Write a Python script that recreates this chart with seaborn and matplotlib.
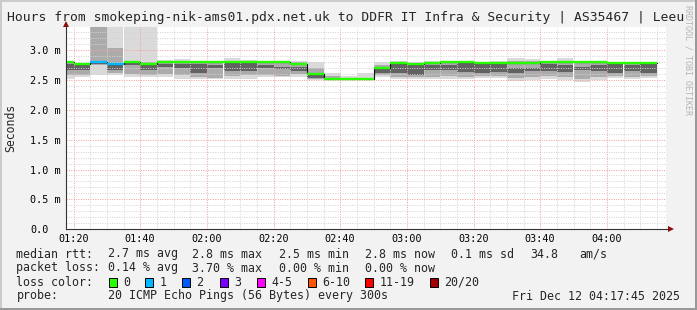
import numpy as np
import pandas as pd
import matplotlib
matplotlib.use("Agg")
import matplotlib.pyplot as plt
import seaborn as sns
from matplotlib.patches import Rectangle

# ------------------------------------------------------------------ data
window_start = "01:17:45"
window_end = "04:17:45"
bin_starts = ["01:17:45", "01:20", "01:25", "01:30", "01:35", "01:40", "01:45", "01:50",
              "01:55", "02:00", "02:05", "02:10", "02:15", "02:20", "02:25", "02:30",
              "02:35", "02:40", "02:45", "02:50", "02:55", "03:00", "03:05", "03:10",
              "03:15", "03:20", "03:25", "03:30", "03:35", "03:40", "03:45", "03:50",
              "03:55", "04:00", "04:05", "04:10"]
last_bin_end = "04:15"

median_ms = [2.79, 2.77, 2.79, 2.77, 2.80, 2.77, 2.79, 2.79, 2.79, 2.79, 2.79, 2.79,
             2.79, 2.79, 2.77, 2.595, 2.52, 2.52, 2.51, 2.695, 2.78, 2.77, 2.78, 2.79,
             2.79, 2.78, 2.78, 2.78, 2.78, 2.79, 2.79, 2.79, 2.79, 2.775, 2.775, 2.775]
loss_count = [0, 0, 1, 1, 0, 0, 0, 0, 0, 0, 0, 0, 0, 0, 0, 0, 0, 0,
              0, 0, 0, 0, 0, 0, 0, 0, 0, 0, 0, 0, 0, 0, 0, 0, 0, 0]

smoke_min = [2.51, 2.54, 2.58, 2.58, 2.54, 2.55, 2.55, 2.52, 2.51, 2.51, 2.51, 2.52,
             2.55, 2.54, 2.55, 2.50, 2.49, 2.49, 2.49, 2.55, 2.51, 2.51, 2.51, 2.51,
             2.51, 2.53, 2.53, 2.48, 2.50, 2.51, 2.49, 2.47, 2.50, 2.53, 2.51, 2.53]
smoke_q10 = [2.58, 2.58, 2.74, 2.62, 2.60, 2.58, 2.60, 2.58, 2.55, 2.53, 2.57, 2.58,
             2.58, 2.57, 2.59, 2.52, 2.50, 2.50, 2.50, 2.58, 2.55, 2.54, 2.55, 2.56,
             2.55, 2.56, 2.57, 2.53, 2.55, 2.56, 2.54, 2.52, 2.55, 2.57, 2.55, 2.57]
smoke_q25 = [2.66, 2.66, 2.77, 2.66, 2.74, 2.67, 2.72, 2.70, 2.62, 2.70, 2.65, 2.64,
             2.70, 2.68, 2.65, 2.53, 2.51, 2.51, 2.505, 2.62, 2.62, 2.58, 2.66, 2.67,
             2.63, 2.62, 2.63, 2.62, 2.65, 2.64, 2.63, 2.66, 2.64, 2.62, 2.64, 2.62]
smoke_q75 = [2.77, 2.75, 2.80, 2.78, 2.79, 2.76, 2.77, 2.76, 2.76, 2.74, 2.78, 2.78,
             2.74, 2.72, 2.72, 2.59, 2.525, 2.52, 2.515, 2.70, 2.79, 2.77, 2.74, 2.75,
             2.78, 2.77, 2.76, 2.70, 2.70, 2.76, 2.74, 2.72, 2.74, 2.77, 2.74, 2.77]
smoke_q90 = [2.79, 2.77, 3.60, 3.03, 2.81, 2.79, 2.82, 2.81, 2.80, 2.79, 2.82, 2.81,
             2.79, 2.79, 2.79, 2.70, 2.56, 2.53, 2.53, 2.75, 2.80, 2.78, 2.80, 2.80,
             2.80, 2.79, 2.80, 2.82, 2.81, 2.80, 2.82, 2.80, 2.80, 2.79, 2.79, 2.79]
smoke_max = [2.80, 2.78, 4.20, 4.00, 3.60, 3.50, 2.835, 2.845, 2.81, 2.80, 2.86, 2.83,
             2.81, 2.80, 2.82, 2.79, 2.62, 2.56, 2.61, 2.80, 2.81, 2.79, 2.82, 2.81,
             2.81, 2.80, 2.82, 2.86, 2.84, 2.82, 2.86, 2.82, 2.82, 2.80, 2.80, 2.80]

xtick_labels = ["01:20", "01:40", "02:00", "02:20", "02:40", "03:00", "03:20", "03:40", "04:00"]
ytick_values = [0.0, 0.5, 1.0, 1.5, 2.0, 2.5, 3.0]
ytick_labels = ["0.0", "0.5 m", "1.0 m", "1.5 m", "2.0 m", "2.5 m", "3.0 m"]
y_top = 3.378

loss_levels = ["0", "1", "2", "3", "4-5", "6-10", "11-19", "20/20"]
loss_upper = [0, 1, 2, 3, 5, 10, 19, 20]
loss_colors = ["#26ff00", "#00b8ff", "#0059ff", "#7e00ff", "#ff00ff", "#ff5500", "#ff0000", "#a10000"]

title = "Hours from smokeping-nik-ams01.pdx.net.uk to DDFR IT Infra & Security | AS35467 | Leeu"
rtt_values = ["2.7 ms avg", "2.8 ms max", "2.5 ms min", "2.8 ms now", "0.1 ms sd", "34.8", "am/s"]
loss_values = ["0.14 % avg", "3.70 % max", "0.00 % min", "0.00 % now"]
probe_text = "20 ICMP Echo Pings (56 Bytes) every 300s"
stamp_text = "Fri Dec 12 04:17:45 2025"
watermark = "RRDTOOL / TOBI OETIKER"

# ------------------------------------------------------------------ helpers
def tmin(s):
    p = [float(v) for v in s.split(":")]
    return p[0] * 60 + p[1] + (p[2] / 60 if len(p) > 2 else 0)

W, H = 697, 310
MONO = "DejaVu Sans Mono"

def fx(px):
    return px / W

def fy(py):
    return 1 - py / H

starts = np.array([tmin(s) for s in bin_starts])
ends = np.append(starts[1:], tmin(last_bin_end))
widths = ends - starts
x0, x1 = tmin(window_start), tmin(window_end)

def loss_color(n):
    for up, c in zip(loss_upper, loss_colors):
        if n <= up:
            return c
    return loss_colors[-1]

# ------------------------------------------------------------------ figure
sns.set_style("white")
plt.rcParams["font.family"] = [MONO, "DejaVu Sans"]

fig = plt.figure(figsize=(W / 100, H / 100), dpi=100)
fig.patch.set_facecolor("#f2f2f2")
ax = fig.add_axes([fx(66), fy(229.3), 600 / W, (229.3 - 27.3) / H])
ax.set_facecolor("white")
ax.set_xlim(x0, x1)
ax.set_ylim(0, y_top)

# smoke bands
bands = [(smoke_min, smoke_max, "#dadada"),
         (smoke_q10, smoke_q90, "#ababab"),
         (smoke_q25, smoke_q75, "#626262")]
for lo, hi, col in bands:
    lo = np.array(lo)
    hi = np.array(hi)
    ax.bar(starts, hi - lo, bottom=lo, width=widths, align="edge",
           color=col, linewidth=0, zorder=1)

# median step line (connectors) + loss coloured segments
df = pd.DataFrame({"t": np.append(starts, ends[-1]),
                   "ms": np.append(median_ms, median_ms[-1])})
sns.lineplot(data=df, x="t", y="ms", drawstyle="steps-post", color="#111111",
             linewidth=0.8, ax=ax, zorder=3)
ax.hlines(median_ms, starts, ends, colors=[loss_color(n) for n in loss_count],
          linewidth=1.7, zorder=4, capstyle="butt")

# ticks & grid
major_x = [tmin(s) for s in xtick_labels]
ax.set_xticks(major_x)
ax.set_xticklabels(xtick_labels)
ax.set_xticks(np.arange(80, x1, 5), minor=True)
ax.set_yticks(ytick_values)
ax.set_yticklabels(ytick_labels)
ax.set_yticks(np.arange(0.1, y_top, 0.1), minor=True)
ax.set_axisbelow(False)
ax.grid(which="minor", color="#d4d4d4", linewidth=0.72, linestyle=(0, (1, 1.4)))
ax.grid(which="major", color="#f2a0a0", linewidth=0.72, linestyle=(0, (1, 1.4)))
ax.set_xlabel("")
ax.set_ylabel("")

ax.tick_params(axis="both", which="major", direction="out", length=2.2, width=0.7,
               color="#333333", labelsize=7.3, labelcolor="black")
ax.tick_params(axis="both", which="minor", direction="out", length=1.4, width=0.6,
               color="#555555")
ax.tick_params(axis="y", which="major", pad=23.7)
ax.tick_params(axis="x", which="major", pad=1.5)
for lab in ax.get_yticklabels():
    lab.set_horizontalalignment("left")
    lab.set_family(MONO)
for lab in ax.get_xticklabels():
    lab.set_family(MONO)

for side in ["top", "right"]:
    ax.spines[side].set_visible(False)
for side in ["left", "bottom"]:
    ax.spines[side].set_color("#333333")
    ax.spines[side].set_linewidth(0.8)
    ax.spines[side].set_zorder(5)

# axis arrows
ax.plot([x1, x1 + 1.3], [0, 0], color="#333333", lw=0.8, clip_on=False, zorder=5)
ax.plot([x1 + 1.4], [0], marker=">", markersize=4.5, color="#8b1010",
        clip_on=False, zorder=6, markeredgewidth=0)
ax.plot([x0], [y_top + 0.06], marker="^", markersize=4.5, color="#8b1010",
        clip_on=False, zorder=6, markeredgewidth=0)

# texts
fig.text(fx(7), fy(18), title, fontsize=9.4, family=MONO, ha="left", va="center")
fig.text(fx(11), fy(128), "Seconds", fontsize=8.3, family=MONO, rotation=90,
         ha="center", va="center")
fig.text(fx(688), fy(5), watermark, fontsize=6.0, family=MONO, rotation=270,
         ha="center", va="top", color="#b5b5b5")

LS = 8.35
rows_y = [254, 268, 282, 296]
fig.text(fx(16.4), fy(rows_y[0]), "median rtt:", fontsize=LS, family=MONO, va="center")
for txt, px in zip(rtt_values, [107.6, 192.4, 279, 365, 451, 530, 579]):
    fig.text(fx(px), fy(rows_y[0]), txt, fontsize=LS, family=MONO, va="center")

fig.text(fx(16.4), fy(rows_y[1]), "packet loss:", fontsize=LS, family=MONO, va="center")
for txt, px in zip(loss_values, [107.6, 192.4, 279, 365]):
    fig.text(fx(px), fy(rows_y[1]), txt, fontsize=LS, family=MONO, va="center")

fig.text(fx(16.4), fy(rows_y[2]), "loss color:", fontsize=LS, family=MONO, va="center")
box_x = [109, 145, 182, 219.6, 257, 307.6, 365, 430]
for lvl, col, bx in zip(loss_levels, loss_colors, box_x):
    fig.add_artist(Rectangle((fx(bx), fy(rows_y[2] + 4.5)), 8 / W, 9 / H,
                             transform=fig.transFigure, facecolor=col,
                             edgecolor="black", linewidth=0.7))
    fig.text(fx(bx + 14.5), fy(rows_y[2]), lvl, fontsize=LS, family=MONO, va="center")

fig.text(fx(16.4), fy(rows_y[3]), "probe:", fontsize=LS, family=MONO, va="center")
fig.text(fx(107.6), fy(rows_y[3]), probe_text, fontsize=LS, family=MONO, va="center")
fig.text(fx(680), fy(rows_y[3]), stamp_text, fontsize=LS, family=MONO, va="center", ha="right")

# 3D frame
fig.add_artist(Rectangle((0, 1 - 2 / H), 1, 2 / H, transform=fig.transFigure,
                         facecolor="#cbcbcb", linewidth=0))
fig.add_artist(Rectangle((0, 0), 2 / W, 1, transform=fig.transFigure,
                         facecolor="#cbcbcb", linewidth=0))
fig.add_artist(Rectangle((0, 0), 1, 2 / H, transform=fig.transFigure,
                         facecolor="#999999", linewidth=0))
fig.add_artist(Rectangle((1 - 2 / W, 0), 2 / W, 1, transform=fig.transFigure,
                         facecolor="#999999", linewidth=0))

fig.savefig("out.png", dpi=100, facecolor=fig.get_facecolor())
